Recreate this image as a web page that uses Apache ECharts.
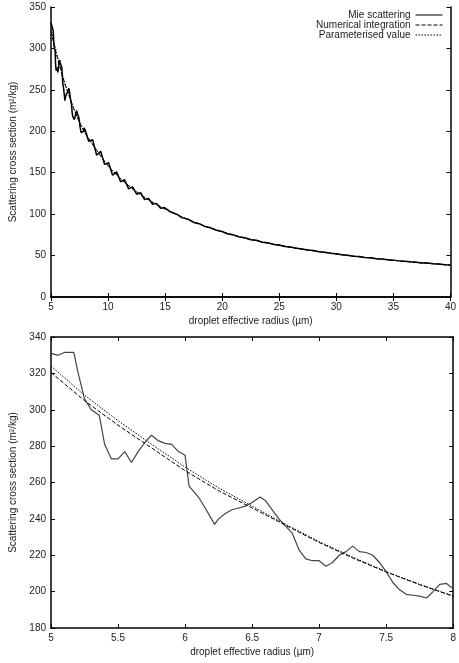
<!DOCTYPE html>
<html>
<head>
<meta charset="utf-8">
<script src="https://cdn.jsdelivr.net/npm/echarts@6/dist/echarts.min.js"></script>
<style>
html, body { margin: 0; padding: 0; background: #fff; }
#main { width: 459px; height: 663px; }
</style>
</head>
<body>
<div id="main"></div>
<script>
// Mie scattering, fine detail between 5 and 8 um
const mieFineR = [5, 5.05, 5.1, 5.17, 5.2, 5.25, 5.3, 5.36, 5.4, 5.45, 5.5, 5.55, 5.6, 5.65, 5.7, 5.75, 5.8, 5.85, 5.9, 5.95, 6, 6.03, 6.1, 6.15, 6.22, 6.25, 6.3, 6.35, 6.4, 6.45, 6.5, 6.56, 6.6, 6.65, 6.7, 6.75, 6.8, 6.85, 6.9, 6.95, 7, 7.05, 7.1, 7.15, 7.2, 7.25, 7.3, 7.35, 7.4, 7.45, 7.5, 7.55, 7.6, 7.65, 7.7, 7.75, 7.8, 7.85, 7.9, 7.95, 8]
const mieFineV = [331, 330, 331.5, 331.5, 321, 306, 300, 297, 281, 273, 273, 277, 271, 277, 282, 286, 283, 281.5, 281, 277, 275, 258, 252, 246, 237, 240, 243, 245, 246, 247, 249, 252, 250, 245, 240, 236, 232, 223, 218, 217, 217, 214, 216, 220, 222, 225, 222, 221.5, 220, 216, 211, 205, 201, 198.5, 198, 197.5, 196.5, 200, 204, 204.5, 201.5]
// Mie scattering beyond 8 um
const mieCoarseR = [8.3, 8.65, 9, 9.35, 9.7, 10.05, 10.4, 10.75, 11.1, 11.45, 11.8, 12.15, 12.5, 12.85, 13.2, 13.55, 13.9, 14.25, 14.6, 14.95, 15.5, 16, 16.5, 17, 17.5, 18, 18.5, 19, 19.5, 20, 20.5, 21, 21.5, 22, 22.5, 23, 23.5, 24, 24.5, 25, 25.5, 26, 26.5, 27, 27.5, 28, 28.5, 29, 29.5, 30, 30.5, 31, 31.5, 32, 32.5, 33, 33.5, 34, 34.5, 35, 35.5, 36, 36.5, 37, 37.5, 38, 38.5, 39, 39.5, 40]
const mieCoarseV = [188, 190, 171, 176, 160, 162, 147, 151, 139, 141.5, 130.5, 133, 124, 126, 117.5, 119, 112, 113, 107, 108, 102.5, 100, 95.5, 94, 90, 88.5, 85, 83.5, 80.5, 79, 76, 75, 72.5, 71.5, 69, 68.5, 66, 65.5, 63.5, 62.8, 61, 60.3, 58.7, 58, 56.6, 56, 54.6, 54, 52.8, 52.2, 51, 50.5, 49.3, 48.8, 47.8, 47.3, 46.3, 45.9, 44.9, 44.5, 43.6, 43.2, 42.4, 42, 41.1, 40.9, 40, 39.8, 39, 38.7]

// smooth curves
const smoothR = [5, 5.25, 5.5, 5.75, 6, 6.25, 6.5, 6.75, 7, 7.25, 7.5, 7.75, 8, 9, 10, 11, 12, 13, 14, 15, 16, 17, 18, 19, 20, 21, 22, 23, 24, 25, 26, 27, 28, 29, 30, 31, 32, 33, 34, 35, 36, 37, 38, 39, 40]
const numericalV = [320.5, 305, 291.5, 279, 266.5, 255.5, 246, 236.5, 227, 218.5, 210.8, 203.8, 197.5, 177, 158, 144, 132, 122, 113.5, 106, 99.5, 93.5, 88, 83, 78.5, 74.5, 71, 68, 65, 62.5, 60, 57.8, 55.7, 53.7, 51.8, 50.1, 48.5, 47, 45.6, 44.3, 43, 41.8, 40.7, 39.6, 38.6]
const paramV = [324, 308, 294, 281, 268.5, 257, 247, 237, 227.5, 219, 211, 204, 197.5, 177, 158, 144, 132, 122, 113.5, 106, 99.5, 93.5, 88, 83, 78.5, 74.5, 71, 68, 65, 62.5, 60, 57.8, 55.7, 53.7, 51.8, 50.1, 48.5, 47, 45.6, 44.3, 43, 41.8, 40.7, 39.6, 38.6]

const names = ['Mie scattering', 'Numerical integration', 'Parameterised value']
const xName = 'droplet effective radius (\u00b5m)'
const yName = 'Scattering cross section (m\u00b2/kg)'

const pairs = (r, v) => r.map((x, i) => [x, v[i]])
const mieAll = pairs(mieFineR, mieFineV).concat(pairs(mieCoarseR, mieCoarseV))

const chart = echarts.init(document.getElementById('main'))

const txt = { color: '#222', fontSize: 10, fontFamily: 'Liberation Sans' }
const frame = { show: true, lineStyle: { color: '#000', width: 1.5 } }
const tick = { show: true, inside: true, length: 4, lineStyle: { color: '#000', width: 1 } }

function xAxes(gi, min, max, interval) {
	return [
		{
			type: 'value', gridIndex: gi, min: min, max: max, interval: interval,
			name: xName, nameLocation: 'middle', nameGap: 19, nameTextStyle: txt,
			axisLine: frame, axisTick: tick, splitLine: { show: false },
			axisLabel: Object.assign({ margin: 5 }, txt),
		},
		{
			type: 'value', gridIndex: gi, position: 'top', min: min, max: max, interval: interval,
			axisLine: frame, axisTick: tick, splitLine: { show: false }, axisLabel: { show: false },
		},
	]
}
function yAxes(gi, min, max, interval) {
	return [
		{
			type: 'value', gridIndex: gi, min: min, max: max, interval: interval,
			name: yName, nameLocation: 'middle', nameGap: 33, nameRotate: 90, nameTextStyle: txt,
			axisLine: frame, axisTick: tick, splitLine: { show: false },
			axisLabel: Object.assign({ margin: 5 }, txt),
		},
		{
			type: 'value', gridIndex: gi, position: 'right', min: min, max: max, interval: interval,
			axisLine: frame, axisTick: tick, splitLine: { show: false }, axisLabel: { show: false },
		},
	]
}

function lines(gi, mie, num, par, mieColor, mieWidth) {
	const base = { type: 'line', xAxisIndex: gi * 2, yAxisIndex: gi * 2, symbol: 'none', animation: false, silent: true }
	return [
		Object.assign({}, base, { name: names[0], data: mie, lineStyle: { color: mieColor, width: mieWidth }, itemStyle: { color: mieColor }, z: 3 }),
		Object.assign({}, base, { name: names[1], data: num, lineStyle: { color: '#000', width: 1, type: [4, 2] }, itemStyle: { color: '#000' } }),
		Object.assign({}, base, { name: names[2], data: par, lineStyle: { color: '#000', width: 1, type: [1.5, 1.5] }, itemStyle: { color: '#000' } }),
	]
}

const fineNum = pairs(smoothR.slice(0, 13), numericalV.slice(0, 13))
const fineParam = pairs(smoothR.slice(0, 13), paramV.slice(0, 13))

chart.setOption({
	backgroundColor: '#fff',
	animation: false,
	legend: {
		data: names,
		orient: 'vertical',
		right: 12,
		top: 6,
		align: 'right',
		itemWidth: 27,
		itemHeight: 8,
		itemGap: 0,
		padding: 4,
		itemStyle: { opacity: 0 },
		lineStyle: { width: 1 },
		textStyle: { color: '#222', fontSize: 10, lineHeight: 9.5, fontFamily: 'Liberation Sans', padding: 0 },
		selectedMode: false,
	},
	grid: [
		{ left: 47, top: 7, width: 406, height: 290 },
		{ left: 47, top: 337, width: 407, height: 291 },
	],
	xAxis: xAxes(0, 5, 40, 5).concat(xAxes(1, 5, 8, 0.5)),
	yAxis: yAxes(0, 0, 350, 50).concat(yAxes(1, 180, 340, 20)),
	series: lines(0, mieAll, pairs(smoothR, numericalV), pairs(smoothR, paramV), '#000', 1.5)
		.concat(lines(1, pairs(mieFineR, mieFineV), fineNum, fineParam, '#444', 1.2)),
})
</script>
</body>
</html>
